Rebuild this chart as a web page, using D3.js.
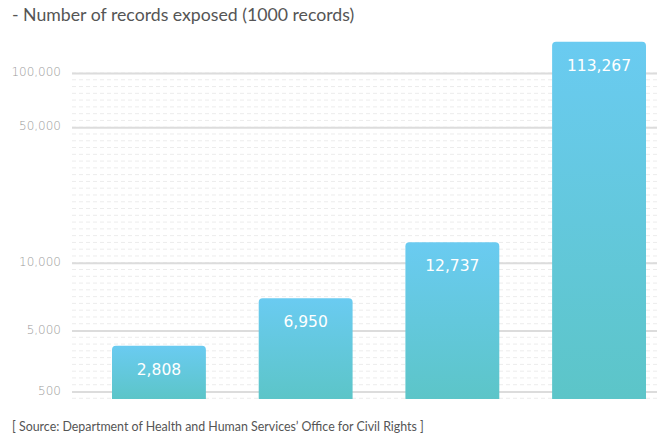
<!DOCTYPE html>
<html>
<head>
<meta charset="utf-8">
<script src="https://cdn.jsdelivr.net/npm/d3@7"></script>
<style>
  html, body { margin: 0; padding: 0; background: #ffffff; }
  svg { display: block; }
</style>
</head>
<body>
<svg id="chart" width="657" height="440"></svg>
<script>
// ---- data ----
const years = ["2012", "2013", "2014", "2015"];
const recordsExposed = [2808, 6950, 12737, 113267];
const tickValues = [500, 5000, 10000, 50000, 100000];
const tickLabels = ["500", "5,000", "10,000", "50,000", "100,000"];
const titleText = "- Number of records exposed (1000 records)";
const sourceText = "[ Source: Department of Health and Human Services\u2019 Office for Civil Rights ]";

// ---- layout ----
const W = 657, H = 440;
const gridLeft = 72, gridRight = W;
const plotTop = 41.7;     // top of the tallest bar
const baseline = 399;     // bottom of the bars
const tickPx = [391.5, 330.5, 262.7, 127.3, 73];

const svg = d3.select("#chart");

// y: piecewise log scale through the (non-uniform) axis ticks
const y = d3.scaleLog()
  .domain([...tickValues, d3.max(recordsExposed)])
  .range([...tickPx, plotTop]);

const x = d3.scaleBand()
  .domain(years)
  .range([112, 646])
  .paddingInner(0.36)
  .paddingOuter(0);

// gradient
const defs = svg.append("defs");
const grad = defs.append("linearGradient")
  .attr("id", "barGrad")
  .attr("x1", 0).attr("y1", 0).attr("x2", 0).attr("y2", 1);
grad.append("stop").attr("offset", "0%").attr("stop-color", "#6acbf1");
grad.append("stop").attr("offset", "100%").attr("stop-color", "#5cc5c8");

// dashed minor grid (uniform pitch between the solid lines)
const pitch = (tickPx[0] - tickPx[tickPx.length - 1]) / 47;
const minorYs = d3.range(0, 49).map(i => tickPx[tickPx.length - 1] + i * pitch);
svg.append("g")
  .selectAll("line")
  .data(minorYs)
  .join("line")
  .attr("x1", gridLeft).attr("x2", gridRight)
  .attr("y1", d => d).attr("y2", d => d)
  .attr("stroke", "#ececec")
  .attr("stroke-width", 1)
  .attr("stroke-dasharray", "4,3");

// y axis with solid grid lines
const yAxis = d3.axisLeft(y)
  .tickValues(tickValues)
  .tickFormat((d, i) => tickLabels[i])
  .tickSize(-(gridRight - gridLeft))
  .tickPadding(11);

const axisG = svg.append("g")
  .attr("transform", `translate(${gridLeft},0)`)
  .call(yAxis);
axisG.select(".domain").remove();
axisG.selectAll(".tick line")
  .attr("stroke", "#dcdcdc")
  .attr("stroke-width", 2);
axisG.selectAll(".tick text")
  .attr("fill", "#9a9a9a")
  .attr("font-family", "'DejaVu Sans', sans-serif")
  .attr("font-weight", 300)
  .attr("font-size", 12)
  .attr("dy", "0.22em");

// bars
const r = 4;
function barPath(x0, y0, w, h) {
  return `M${x0},${y0 + h} L${x0},${y0 + r} Q${x0},${y0} ${x0 + r},${y0} ` +
         `L${x0 + w - r},${y0} Q${x0 + w},${y0} ${x0 + w},${y0 + r} L${x0 + w},${y0 + h} Z`;
}
const data = years.map((yr, i) => ({ year: yr, value: recordsExposed[i] }));

svg.append("g")
  .selectAll("path")
  .data(data)
  .join("path")
  .attr("d", d => barPath(x(d.year), y(d.value), x.bandwidth(), baseline - y(d.value)))
  .attr("fill", "url(#barGrad)");

svg.append("g")
  .selectAll("text")
  .data(data)
  .join("text")
  .attr("x", d => x(d.year) + x.bandwidth() / 2)
  .attr("y", d => y(d.value) + 29)
  .attr("text-anchor", "middle")
  .attr("fill", "#ffffff")
  .attr("font-family", "'DejaVu Sans', sans-serif")
  .attr("font-size", 15.5)
  .text(d => d3.format(",")(d.value));

// title
svg.append("text")
  .attr("x", 12).attr("y", 21)
  .attr("fill", "#555555")
  .attr("font-family", "Lato, 'Noto Sans', sans-serif")
  .attr("font-size", 17.7)
  .text(titleText);

// source
svg.append("text")
  .attr("x", 12).attr("y", 431)
  .attr("fill", "#555555")
  .attr("font-family", "Lato, 'Noto Sans', sans-serif")
  .attr("font-size", 12.4)
  .text(sourceText);
</script>
</body>
</html>
